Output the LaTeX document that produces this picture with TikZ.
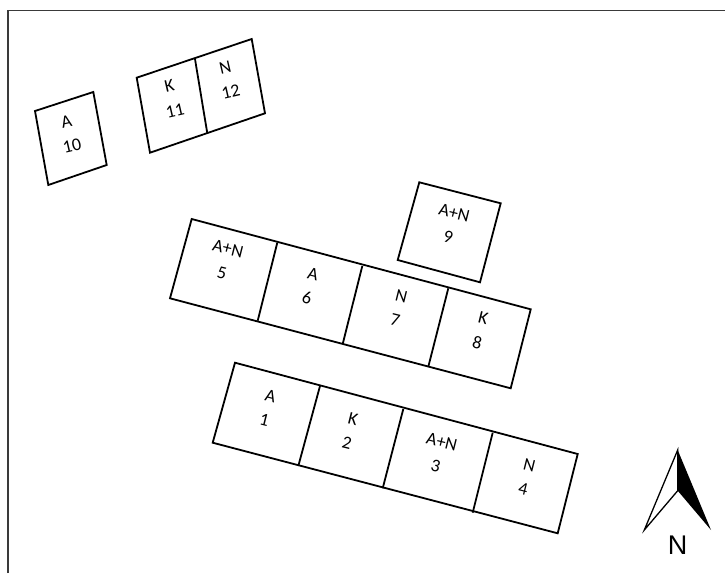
\documentclass[tikz,border=0pt]{standalone}
\usepackage{fontspec}
\setmainfont{Carlito}
\newfontfamily\northfont{Liberation Sans}
\definecolor{frameline}{HTML}{3A3A3A}

\tikzset{
  plotline/.style={black,line width=1.8pt,line join=miter},
  plotlabel/.style={align=center,inner sep=0pt,
    font=\fontsize{18}{25}\selectfont}
}

\begin{document}
\begin{tikzpicture}[x=1pt,y=-1pt,line cap=butt]
  \useasboundingbox (0,0) rectangle (725,573);
  \fill[white] (0,0) rectangle (725,573);

  % Page frame, only its top and left sides fall inside the picture.
  \draw[frameline,line width=1.5pt] (8,573)--(8,10.3)--(725,10.3);

  % Single plot 10, top left.
  \draw[plotline] (35,111)--(93.3,92)--(106.7,165)--(48.3,185)--cycle;
  \node[plotlabel,rotate=13] (p10) at (69.2,133.7) {A\\10};

  % Plots 11 and 12.
  \draw[plotline] (136.7,77.7)--(251.7,39)--(265,113.3)--(150,152.7)--cycle;
  \draw[plotline] (195,59)--(207.3,133.3);
  \node[plotlabel,rotate=13] (p11) at (172.2,98.3) {K\\11};
  \node[plotlabel,rotate=13] (p12) at (228,79.7) {N\\12};

  % Single plot 9.
  \draw[plotline] (419.3,182.3)--(500.7,203.3)--(480,282.3)--(397.7,260)--cycle;
  \node[plotlabel,rotate=-14] (p9) at (451.2,225) {A+N\\9};

  % Middle row, plots 5 to 8.
  \draw[plotline] (191.7,219)--(530.7,309.3)--(510.7,388.3)--(170,298.3)--cycle;
  \draw[plotline] (277.3,242.7)--(257.7,320.7);
  \draw[plotline] (362.3,266)--(342.7,344);
  \draw[plotline] (448.3,288.3)--(428.3,366.7);
  \node[plotlabel,rotate=-14] (p5) at (225,260.8) {A+N\\5};
  \node[plotlabel,rotate=-14] (p6) at (310,286.2) {A\\6};
  \node[plotlabel,rotate=-14] (p7) at (398.3,308) {N\\7};
  \node[plotlabel,rotate=-14] (p8) at (480.3,330.5) {K\\8};

  % Bottom row, plots 1 to 4.
  \draw[plotline] (235,362.7)--(577.7,454)--(557.7,533.3)--(212.7,442.7)--cycle;
  \draw[plotline] (320,386)--(298.3,466);
  \draw[plotline] (403.3,409)--(382.7,488.3);
  \draw[plotline] (492.7,432.7)--(472.7,512.7);
  \node[plotlabel,rotate=-14] (p1) at (267.5,407.8) {A\\1};
  \node[plotlabel,rotate=-14] (p2) at (350,431.3) {K\\2};
  \node[plotlabel,rotate=-14] (p3) at (438.8,454.2) {A+N\\3};
  \node[plotlabel,rotate=-14] (p4) at (526.3,477.2) {N\\4};

  % North arrow.
  \fill[black] (677.7,450)--(711,530)--(677.7,490.7)--cycle;
  \draw[black,line width=1.3pt,line join=miter] (677.7,450)--(644.3,530)--(677.7,490.7)--cycle;
  \node[inner sep=0pt,font=\northfont\fontsize{27}{27}\selectfont] (north) at (677.7,545) {N};
\end{tikzpicture}
\end{document}
